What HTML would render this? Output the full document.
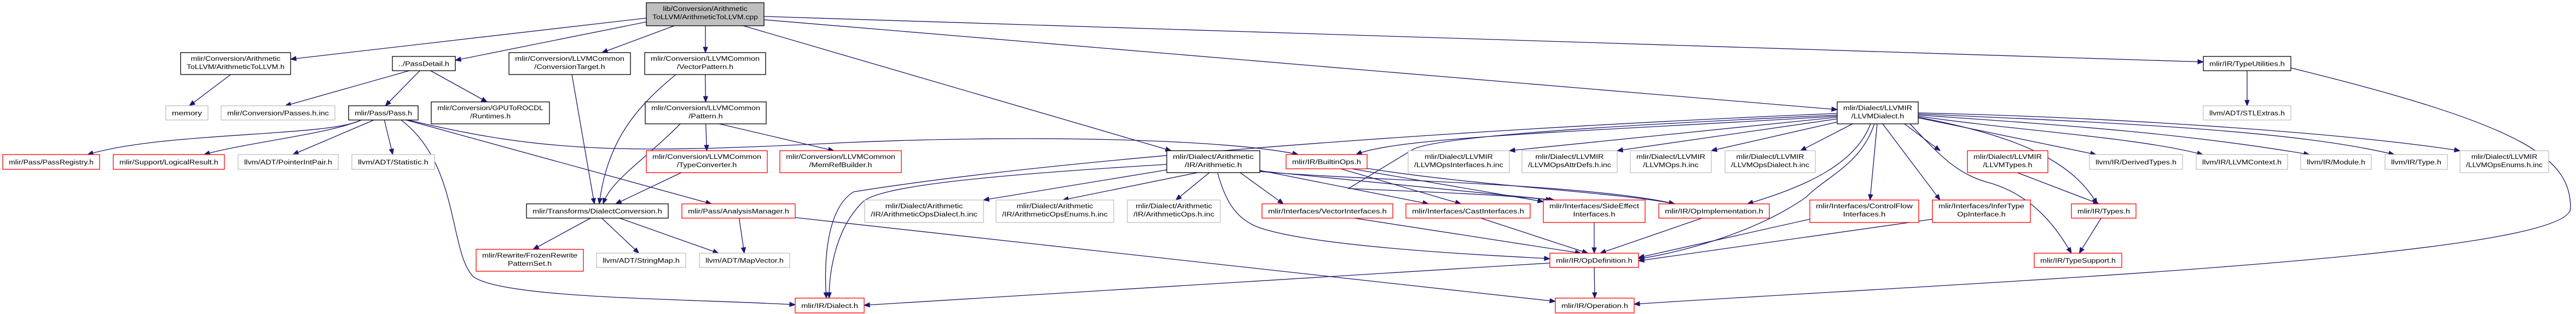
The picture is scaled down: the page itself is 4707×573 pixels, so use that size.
<!DOCTYPE html>
<html><head><meta charset="utf-8">
<style>
html,body{margin:0;padding:0;background:#fff;}
svg{display:block;}
text{font-family:"Liberation Sans",sans-serif;font-size:12px;fill:#000;}
</style></head>
<body>
<svg id="g" xmlns="http://www.w3.org/2000/svg" width="4707" height="573" viewBox="0 0 4707 573">
<rect x="0" y="0" width="4707" height="573" fill="#fff"/>
<g id="edges"></g>
<g id="nodes"></g>
</svg>
<script>
const nodeIds = ["root","a2l","pd","ct","vp","pat","tc","mrb","arith","llvmd","tu","stl","mem","pinc","pass","roc","preg","lres","pip","stat","dc","frp","smap","mvec","am","aod","aoe","aop","dial","bops","loi","lad","lop","lod","vi","ci","se","oi","cf","od","op","lt","dt","lc","mod","typ","loe","it","ty","ts"];
const nodeLabels = {
root:["lib/Conversion/Arithmetic","ToLLVM/ArithmeticToLLVM.cpp"],
a2l:["mlir/Conversion/Arithmetic","ToLLVM/ArithmeticToLLVM.h"],
pd:["../PassDetail.h"],
ct:["mlir/Conversion/LLVMCommon","/ConversionTarget.h"],
vp:["mlir/Conversion/LLVMCommon","/VectorPattern.h"],
pat:["mlir/Conversion/LLVMCommon","/Pattern.h"],
tc:["mlir/Conversion/LLVMCommon","/TypeConverter.h"],
mrb:["mlir/Conversion/LLVMCommon","/MemRefBuilder.h"],
arith:["mlir/Dialect/Arithmetic","/IR/Arithmetic.h"],
llvmd:["mlir/Dialect/LLVMIR","/LLVMDialect.h"],
tu:["mlir/IR/TypeUtilities.h"],
stl:["llvm/ADT/STLExtras.h"],
mem:["memory"],
pinc:["mlir/Conversion/Passes.h.inc"],
pass:["mlir/Pass/Pass.h"],
roc:["mlir/Conversion/GPUToROCDL","/Runtimes.h"],
preg:["mlir/Pass/PassRegistry.h"],
lres:["mlir/Support/LogicalResult.h"],
pip:["llvm/ADT/PointerIntPair.h"],
stat:["llvm/ADT/Statistic.h"],
dc:["mlir/Transforms/DialectConversion.h"],
frp:["mlir/Rewrite/FrozenRewrite","PatternSet.h"],
smap:["llvm/ADT/StringMap.h"],
mvec:["llvm/ADT/MapVector.h"],
am:["mlir/Pass/AnalysisManager.h"],
aod:["mlir/Dialect/Arithmetic","/IR/ArithmeticOpsDialect.h.inc"],
aoe:["mlir/Dialect/Arithmetic","/IR/ArithmeticOpsEnums.h.inc"],
aop:["mlir/Dialect/Arithmetic","/IR/ArithmeticOps.h.inc"],
dial:["mlir/IR/Dialect.h"],
bops:["mlir/IR/BuiltinOps.h"],
loi:["mlir/Dialect/LLVMIR","/LLVMOpsInterfaces.h.inc"],
lad:["mlir/Dialect/LLVMIR","/LLVMOpsAttrDefs.h.inc"],
lop:["mlir/Dialect/LLVMIR","/LLVMOps.h.inc"],
lod:["mlir/Dialect/LLVMIR","/LLVMOpsDialect.h.inc"],
vi:["mlir/Interfaces/VectorInterfaces.h"],
ci:["mlir/Interfaces/CastInterfaces.h"],
se:["mlir/Interfaces/SideEffect","Interfaces.h"],
oi:["mlir/IR/OpImplementation.h"],
cf:["mlir/Interfaces/ControlFlow","Interfaces.h"],
od:["mlir/IR/OpDefinition.h"],
op:["mlir/IR/Operation.h"],
lt:["mlir/Dialect/LLVMIR","/LLVMTypes.h"],
dt:["llvm/IR/DerivedTypes.h"],
lc:["llvm/IR/LLVMContext.h"],
mod:["llvm/IR/Module.h"],
typ:["llvm/IR/Type.h"],
loe:["mlir/Dialect/LLVMIR","/LLVMOpsEnums.h.inc"],
it:["mlir/Interfaces/InferType","OpInterface.h"],
ty:["mlir/IR/Types.h"],
ts:["mlir/IR/TypeSupport.h"]
};
// box geometry [x1,y1,x2,y2] and border kind
const nodeBoxes = {
root:[1181,5,1396,47],a2l:[330,96,531,136],pd:[717,103,832,129],ct:[930,96,1152,136],
vp:[1178,96,1399,136],pat:[1179,186,1400,226],tc:[1181,275,1402,315],mrb:[1425,275,1647,315],
arith:[2132,275,2302,315],llvmd:[3357,186,3505,226],tu:[4026,103,4186,129],stl:[4026,193,4186,219],
mem:[303,193,380,219],pinc:[404,193,612,219],pass:[637,193,764,219],roc:[788,186,1004,226],
preg:[5,282,182,309],lres:[207,282,410,309],pip:[435,282,618,309],stat:[643,282,794,309],
dc:[962,372,1221,398],frp:[870,455,1066,495],smap:[1090,462,1253,488],mvec:[1278,462,1443,488],
am:[1246,372,1453,398],aod:[1580,365,1797,406],aoe:[1820,365,2035,406],aop:[2060,365,2230,406],
dial:[1453,544,1579,571],bops:[2350,282,2498,308],loi:[2573,275,2758,315],lad:[2781,275,2955,315],
lop:[2979,275,3127,315],lod:[3152,275,3317,315],vi:[2306,372,2545,398],ci:[2569,372,2796,398],
se:[2820,365,3006,406],oi:[3031,372,3233,398],cf:[3307,365,3506,406],od:[2832,462,2994,488],
op:[2842,544,2986,571],lt:[3595,275,3742,315],dt:[3818,282,3988,309],lc:[4013,282,4180,309],
mod:[4204,282,4333,309],typ:[4358,282,4472,309],loe:[4495,275,4657,315],it:[3531,365,3710,406],
ty:[3785,372,3903,398],ts:[3717,462,3877,488]
};
const grayNodes = ["stl","mem","pinc","pip","stat","smap","mvec","aod","aoe","aop","loi","lad","lop","lod","dt","lc","mod","typ","loe"];
const redNodes = ["preg","lres","frp","tc","mrb","am","dial","bops","vi","ci","se","oi","cf","od","op","lt","it","ty","ts"];

// edges: [from, to, optional custom path]
const edgeList = [
["root","a2l","M1181,33 L531,108"],
["root","pd","M1181,40 L832,110"],
["root","ct","M1232,47 L1100,96"],
["root","vp","M1289,47 L1289,96"],
["root","arith","M1358,47 L2140,275"],
["root","llvmd","M1396,36 L3357,200"],
["root","tu","M1396,30 L4026,113"],
["a2l","mem"],
["pd","pinc"],["pd","pass"],["pd","roc"],
["pass","preg","M660,219 C600,250 300,240 160,282"],
["pass","lres","M660,219 C600,245 450,260 373,282"],
["pass","pip"],["pass","stat"],
["pass","dial","M733,219 C840,300 820,460 865,505 C920,545 1250,545 1453,556"],
["pass","am","M742,219 L1300,372"],
["pass","bops","M746,219 C1000,280 1150,280 1550,260 C1900,245 2250,255 2372,282"],
["ct","dc","M1045,136 L1086,372"],
["vp","pat"],
["vp","dc","M1235,136 C1170,190 1110,250 1095,372"],
["pat","tc"],["pat","mrb"],
["pat","dc","M1243,226 C1180,290 1115,330 1102,372"],
["tc","dc","M1245,315 L1125,372"],
["dc","frp"],["dc","smap"],["dc","mvec","M1132,398 L1313,462"],
["am","mvec"],
["am","op","M1453,397 L2842,550"],
["arith","dial","M2132,300 C1800,320 1600,340 1575,370 C1525,420 1515,500 1515,544"],
["arith","aod","M2132,310 L1797,365"],["arith","aoe"],["arith","aop"],
["arith","vi","M2266,315 L2345,372"],
["arith","ci","M2302,311 L2610,372"],
["arith","se","M2302,312 L2840,365"],
["arith","oi","M2302,313 C2500,330 2900,335 3060,372"],
["arith","od","M2225,316 C2240,370 2260,400 2300,415 C2400,450 2700,465 2832,472"],
["llvmd","dial","M3357,207 C2800,230 2000,280 1560,350 C1510,380 1505,480 1510,544"],
["llvmd","bops","M3357,212 C2900,240 2550,250 2478,282"],
["llvmd","se","M3357,210 C2800,235 2620,255 2583,272 L2464,344 C2600,350 2750,355 2835,365"],
["llvmd","loi","M3357,214 L2758,275"],
["llvmd","lad","M3357,217 L2955,275"],
["llvmd","lop","M3360,222 L3127,275"],
["llvmd","lod","M3385,226 L3290,275"],
["llvmd","oi","M3418,226 C3390,300 3300,340 3193,372"],
["llvmd","od","M3425,226 C3400,300 3340,320 3300,360 C3200,430 3050,465 2994,472"],
["llvmd","cf","M3430,226 L3417,365"],
["llvmd","it","M3440,226 L3545,365"],
["llvmd","lt","M3480,226 L3545,275"],
["llvmd","ts","M3490,226 C3550,290 3580,320 3640,335 C3720,360 3760,420 3785,462"],
["llvmd","ty","M3505,214 C3700,250 3790,300 3832,372"],
["llvmd","dt","M3505,215 L3830,282"],
["llvmd","lc","M3505,212 C3700,240 3900,250 4025,282"],
["llvmd","mod","M3505,210 C3800,230 4000,245 4220,282"],
["llvmd","typ","M3505,208 C3900,225 4200,240 4375,282"],
["llvmd","loe","M3505,206 C3900,215 4300,245 4495,275"],
["tu","stl"],
["tu","op","M4186,124 C4620,230 4697,290 4697,380 C4697,470 3600,515 2986,555"],
["lt","ty"],["ty","ts"],
["bops","ci"],["bops","se","M2470,308 L2820,368"],["bops","oi","M2490,306 C2700,340 2950,350 3060,372"],
["vi","od"],["ci","od"],["se","od"],["oi","od"],
["cf","od","M3307,400 L2994,470"],
["it","od","M3531,400 L2994,476"],
["od","op"],
["od","dial","M2832,480 L1579,557"]
];
</script>
<script>
const NS="http://www.w3.org/2000/svg";
const svg=document.getElementById('g');
const eg=document.getElementById('edges');
const ng=document.getElementById('nodes');
function box(id){const b=nodeBoxes[id];return {x1:b[0],y1:b[1],x2:b[2],y2:b[3],cx:(b[0]+b[2])/2};}
function clamp(v,a,b){return Math.max(a,Math.min(b,v));}
edgeList.forEach(e=>{
  const s=box(e[0]),t=box(e[1]);
  let d=e[2];
  if(!d){
    const sx=clamp(s.cx+(t.cx-s.cx)*0.1,s.x1+8,s.x2-8);
    const tx=clamp(t.cx+(s.cx-t.cx)*0.05,t.x1+8,t.x2-8);
    d=`M${sx},${s.y2} L${tx},${t.y1}`;
  }
  const p=document.createElementNS(NS,'path');
  p.setAttribute('d',d);p.setAttribute('fill','none');p.setAttribute('stroke','#191970');p.setAttribute('stroke-width','1.3');
  
  
  eg.appendChild(p);
  const L=p.getTotalLength();
  const end=p.getPointAtLength(L),pre=p.getPointAtLength(Math.max(0,L-4));
  let ang=Math.atan2(end.y-pre.y,end.x-pre.x);
  const len=10,w=4;
  const bx=end.x-len*Math.cos(ang),by=end.y-len*Math.sin(ang);
  const a=document.createElementNS(NS,'polygon');
  a.setAttribute('points',`${end.x},${end.y} ${bx-w*Math.sin(ang)},${by+w*Math.cos(ang)} ${bx+w*Math.sin(ang)},${by-w*Math.cos(ang)}`);
  a.setAttribute('fill','#191970');a.setAttribute('stroke','#191970');
  
  
  eg.appendChild(a);
});
nodeIds.forEach(id=>{
  const b=box(id);const lines=nodeLabels[id];
  const g=document.createElementNS(NS,'g');
  
  
  const r=document.createElementNS(NS,'rect');
  r.setAttribute('x',b.x1);r.setAttribute('y',b.y1);r.setAttribute('width',b.x2-b.x1);r.setAttribute('height',b.y2-b.y1);
  let stroke='#000';if(grayNodes.includes(id))stroke='#bfbfbf';if(redNodes.includes(id))stroke='#ff0000';
  r.setAttribute('fill',id==='root'?'#bfbfbf':'#fff');r.setAttribute('stroke',stroke);r.setAttribute('stroke-width','1.3');
  g.appendChild(r);
  ng.appendChild(g);
  const texts=[];
  lines.forEach((ln,i)=>{
    const t=document.createElementNS(NS,'text');
    t.textContent=ln;t.setAttribute('text-anchor','middle');
    
    
    g.appendChild(t);texts.push(t);
  });
  let maxw=0;texts.forEach(t=>{maxw=Math.max(maxw,t.getComputedTextLength());});
  const sx=maxw>0?(b.x2-b.x1-22)/maxw:1;
  texts.forEach((t,i)=>{
    const y=lines.length===2?b.y1+15+i*15:b.y1+(b.y2-b.y1)/2+4.5;
    t.setAttribute('transform',`translate(${b.cx},${y}) scale(${sx},1)`);
  });
});
</script>
</body></html>
